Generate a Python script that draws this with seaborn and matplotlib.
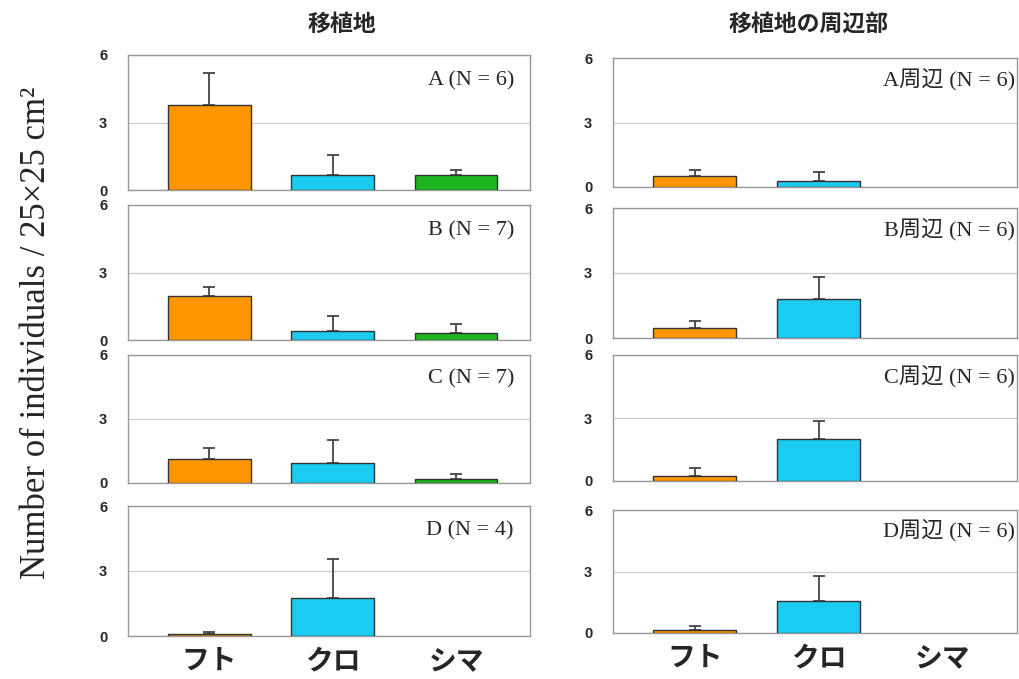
import numpy as np
import pandas as pd
import seaborn as sns
import matplotlib.pyplot as plt

species = ["フト", "クロ", "シマ"]
sites = ["A", "B", "C", "D"]
n_main = [6, 7, 7, 4]
n_edge = [6, 6, 6, 6]

# mean number of individuals per quadrat
main_mean = [
    [3.8, 0.65, 0.65],
    [1.95, 0.42, 0.3],
    [1.12, 0.95, 0.2],
    [0.08, 1.75, np.nan],
]
main_err = [
    [1.4, 0.9, 0.25],
    [0.4, 0.63, 0.4],
    [0.53, 1.05, 0.2],
    [0.1, 1.8, np.nan],
]
edge_mean = [
    [0.5, 0.3, np.nan],
    [0.45, 1.8, np.nan],
    [0.25, 2.0, np.nan],
    [0.15, 1.56, np.nan],
]
edge_err = [
    [0.3, 0.4, np.nan],
    [0.35, 1.0, np.nan],
    [0.35, 0.85, np.nan],
    [0.18, 1.22, np.nan],
]

colors = {"フト": "#FF9600", "クロ": "#1CCBF2", "シマ": "#1FB51F"}

sns.set_theme(style="white")
plt.rcParams["font.family"] = ["Liberation Sans", "Noto Sans CJK JP"]
cjk = ["Noto Sans CJK JP", "DejaVu Sans"]
serif = ["Liberation Serif", "Noto Sans CJK JP"]

fig = plt.figure(figsize=(10.19, 6.79), dpi=100)
H, W = 679.0, 1019.0

# pixel boxes of each panel: (top, bottom)
left_rows = [(55, 190), (205, 340), (355, 483), (506, 636)]
right_rows = [(58, 187), (208, 338), (355, 481), (510, 633)]
columns = [
    (128, 530, left_rows, main_mean, main_err, n_main, ""),
    (613, 1017, right_rows, edge_mean, edge_err, n_edge, "周辺"),
]

for x0, x1, rows, means, errs, ns, suffix in columns:
    for i, (y0, y1) in enumerate(rows):
        ax = fig.add_axes([x0 / W, 1 - y1 / H, (x1 - x0) / W, (y1 - y0) / H])
        df = pd.DataFrame({"species": species, "mean": means[i], "err": errs[i]})
        sns.barplot(data=df, x="species", y="mean", hue="species", order=species,
                    hue_order=species, palette=colors, saturation=1, width=0.67,
                    legend=False, edgecolor="#333333", linewidth=1.0,
                    errorbar=None, ax=ax, zorder=3)
        pos = np.arange(len(species))
        ok = ~df["mean"].isna().to_numpy()
        ax.errorbar(pos[ok], df["mean"][ok], yerr=[np.zeros(ok.sum()), df["err"][ok]],
                    fmt="none", ecolor="#444444", elinewidth=1.3, capsize=4,
                    capthick=1.3, zorder=2)
        ax.set_xlim(-0.66, 2.6)
        ax.set_ylim(0, 6)
        ax.set_yticks([0, 3, 6])
        ax.yaxis.grid(True, color="#cccccc", linewidth=0.9, zorder=0)
        ax.set_axisbelow(True)
        for sp in ax.spines.values():
            sp.set_color("#999999")
            sp.set_linewidth(1.0)
        ax.tick_params(axis="y", length=0, pad=15, labelsize=10.5)
        for t in ax.get_yticklabels():
            t.set_fontweight("bold")
        ax.set_xlabel("")
        ax.set_ylabel("")
        if i < 3:
            ax.set_xticklabels([])
            ax.tick_params(axis="x", length=0)
        else:
            ax.tick_params(axis="x", length=0, pad=8)
            ax.set_xticks(pos)
            ax.set_xticklabels(species, fontsize=20, fontweight="bold", family=cjk)
        ax.text(0.96 if suffix == "" else 0.995, 0.81 if suffix == "" else 0.835,
                f"{sites[i]}{suffix} (N = {ns[i]})",
                transform=ax.transAxes, ha="right", va="center",
                fontsize=16, family=serif)

fig.text(342 / W, 1 - 24 / H, "移植地", ha="center", va="center",
         fontsize=16.5, fontweight="bold", family=cjk)
fig.text(809 / W, 1 - 24 / H, "移植地の周辺部", ha="center", va="center",
         fontsize=16.5, fontweight="bold", family=cjk)
fig.text(37 / W, 1 - 333 / H, "Number of individuals / 25×25 cm²",
         rotation=90, ha="center", va="center", fontsize=25, family=serif)

fig.savefig("out.png", dpi=100)
